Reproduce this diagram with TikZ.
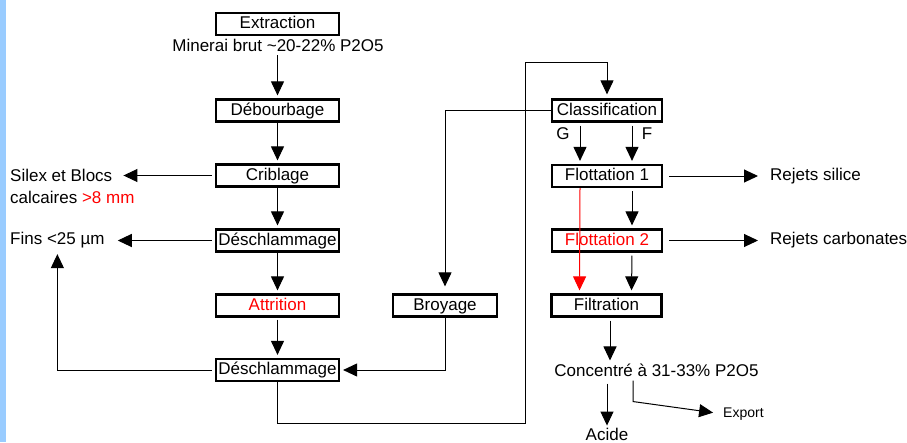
\documentclass[tikz,border=0pt]{standalone}
\usepackage{fontspec}
\setmainfont{Liberation Sans}
\usetikzlibrary{arrows.meta}
\definecolor{stripblue}{RGB}{153,204,255}
\definecolor{myred}{RGB}{255,0,0}
\begin{document}
\begin{tikzpicture}[x=1pt,y=1pt,
  box/.style={draw, line width=2.2pt, minimum height=22pt, inner sep=0pt, text height=12.5pt, text depth=3.5pt, font=\fontsize{17}{20}\selectfont},
  lbox/.style={box, minimum width=123pt},
  rbox/.style={box, minimum width=110pt},
  lbl/.style={inner sep=0pt, font=\fontsize{17}{20}\selectfont},
  tip/.style={-{Triangle[length=14pt,width=13pt]}},
  arr/.style={line width=1pt, tip, shorten >=3pt},
]
\useasboundingbox (0,0) rectangle (907,-442);
\fill[stripblue] (0,0) rectangle (6,-442);

% left column
\node[lbox] (ext) at (277.5,-24) {Extraction};
\node[lbl] (min) at (278,-45) {Minerai brut \textasciitilde20-22\% P2O5};
\node[lbox] (deb) at (277.5,-110.5) {Débourbage};
\node[lbox] (crib) at (277.5,-175.5) {Criblage};
\node[lbox] (des1) at (277.5,-240.5) {Déschlammage};
\node[lbox] (attr) at (277.5,-305.5) {\textcolor{myred}{Attrition}};
\node[lbox] (des2) at (277.5,-370) {Déschlammage};

\node[lbl, anchor=west] (silex) at (10,-175) {Silex et Blocs};
\node[lbl, anchor=west] (calc) at (10,-197) {calcaires \textcolor{myred}{>8 mm}};
\node[lbl, anchor=west] (fins) at (10,-240) {Fins <25 µm};

% middle
\node[box, minimum width=104pt] (broy) at (445,-305.5) {Broyage};

% right column
\node[rbox] (clas) at (607,-110.5) {Classification};
\node[lbl] (g) at (563,-134) {G};
\node[lbl] (f) at (647,-134) {F};
\node[rbox] (f1) at (607,-176) {Flottation 1};
\node[rbox] (f2) at (607,-240.5) {\textcolor{myred}{Flottation 2}};
\node[rbox] (filt) at (606.5,-305.5) {Filtration};
\node[lbl, anchor=west] (rs) at (770,-176) {Rejets silice};
\node[lbl, anchor=west] (rc) at (770,-240.5) {Rejets carbonates};
\node[lbl] (conc) at (656.5,-370) {Concentré à 31-33\% P2O5};
\node[lbl] (acide) at (607,-434) {Acide};
\node[inner sep=0pt, font=\fontsize{14}{16}\selectfont, anchor=west] (exp) at (723,-414) {Export};

\coordinate (c1) at (525,-423);
\coordinate (c2) at (525,-62);

% left connectors
\draw[arr, shorten <=4pt] (min.south -| ext.south) -- (deb.north);
\draw[arr] (deb.south) -- (crib.north);
\draw[arr] (crib.south) -- (des1.north);
\draw[arr] (des1.south) -- (attr.north);
\draw[arr, shorten <=2pt] (attr.south) -- (des2.north);
\draw[arr, shorten <=3pt, shorten >=11pt] (crib.west) -- (crib.west -| silex.east);
\draw[arr, shorten <=3pt, shorten >=13pt] (des1.west) -- (des1.west -| fins.east);
\draw[arr, shorten <=3pt, shorten >=6pt] (des2.west) -| (fins.south);

% loop to classification
\draw[line width=1pt, tip, shorten >=4pt] (des2.south) |- (c1) -- (c2) -| (clas.north);
\draw[arr, shorten >=7pt] (clas.west) -| (broy.north);
\draw[arr] (broy.south) |- (des2.east);

% right connectors
\draw[arr, shorten <=3pt] ([xshift=-27pt]clas.south) -- ([xshift=-27pt]f1.north);
\draw[arr, shorten <=3pt] ([xshift=25pt]clas.south) -- ([xshift=25pt]f1.north);
\draw[arr, shorten <=3pt] ([xshift=25pt]f1.south) -- ([xshift=25pt]f2.north);
\draw[arr, shorten <=3pt] ([xshift=25pt]f2.south) -- ([xshift=25pt]filt.north);
\draw[arr, shorten <=6pt, shorten >=12pt] (f1.east) -- (rs.west);
\draw[arr, shorten <=6pt, shorten >=12pt] (f2.east) -- (rc.west);
\draw[arr, myred] ([xshift=-27pt]f1.south) -- ([xshift=-27pt]filt.north);
\draw[arr, shorten <=3pt] ([xshift=3.5pt]filt.south) -- ([xshift=3.5pt]filt.south |- conc.north);
\draw[arr, shorten <=7pt, shorten >=2pt] (conc.south -| acide.north) -- (acide.north);
\draw[line width=1pt, tip, shorten >=10pt] ([xshift=-23.5pt,yshift=-4pt]conc.south) -- ++(0,-21) -- (exp.west);
\end{tikzpicture}
\end{document}
